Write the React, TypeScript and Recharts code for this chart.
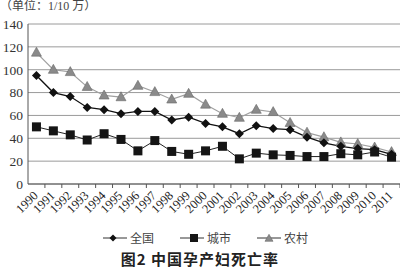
import React from "react";
import { LineChart, Line, XAxis, YAxis, CartesianGrid } from "recharts";

const years = [
  "1990", "1991", "1992", "1993", "1994", "1995", "1996", "1997", "1998", "1999", "2000",
  "2001", "2002", "2003", "2004", "2005", "2006", "2007", "2008", "2009", "2010", "2011",
];
const national = [95, 80, 76.5, 67, 65, 61.5, 63.5, 63.5, 56, 58.5, 53, 50, 44, 51, 48.5, 47.5, 41, 36, 33, 31, 30, 26];
const urban = [50, 46.5, 43, 38.5, 44, 39, 29, 38, 28.5, 26, 29, 33, 22, 27, 25.5, 25, 24, 24, 26.5, 25.5, 28, 23.5];
const rural = [115, 100, 98, 85, 77.5, 76, 86, 80.5, 74, 79, 69.5, 61.5, 58, 65, 63, 53.5, 45, 41, 36.5, 35, 32, 28];
const yTicks = [0, 20, 40, 60, 80, 100, 120, 140];

const data = years.map((y, i) => ({
  year: y,
  national: national[i],
  urban: urban[i],
  rural: rural[i],
}));

const serif = "'Liberation Serif', 'Noto Sans CJK SC', serif";
const cjk = "'Noto Sans CJK SC', sans-serif";
const HALF_BAND = 372 / 22 / 2;

function Diamond({ cx, cy, r = 4.5 }: any) {
  return (
    <polygon
      points={`${cx},${cy - r} ${cx + r},${cy} ${cx},${cy + r} ${cx - r},${cy}`}
      fill="#111"
    />
  );
}

function Square({ cx, cy, s = 9 }: any) {
  return <rect x={cx - s / 2} y={cy - s / 2} width={s} height={s} fill="#151515" />;
}

function Triangle({ cx, cy, w = 10, h = 9 }: any) {
  return (
    <polygon
      points={`${cx},${cy - h * 0.6} ${cx + w / 2},${cy + h * 0.4} ${cx - w / 2},${cy + h * 0.4}`}
      fill="#8a8a8a"
      stroke="#6a6a6a"
      strokeWidth={0.6}
    />
  );
}

function YearTick({ x, y, payload }: any) {
  return (
    <g>
      <line x1={x + HALF_BAND} y1={y} x2={x + HALF_BAND} y2={y + 4} stroke="#555" />
      <text
        transform={`translate(${x - 4},${y + 6}) rotate(-45)`}
        textAnchor="end"
        dominantBaseline="hanging"
        fontFamily={serif}
        fontSize={12.5}
        fill="#222"
      >
        {payload.value}
      </text>
    </g>
  );
}

function LegendItem({ label, marker }: { label: string; marker: React.ReactNode }) {
  return (
    <span style={{ display: "inline-flex", alignItems: "center" }}>
      <svg width={24} height={12} style={{ marginRight: 3 }}>
        <line x1={0} y1={6} x2={24} y2={6} stroke="#333" strokeWidth={1} />
        {marker}
      </svg>
      {label}
    </span>
  );
}

export default function App() {
  return (
    <div style={{ position: "absolute", left: 0, top: 0, width: 400, height: 272, background: "#fff", overflow: "hidden" }}>
      <div
        style={{
          position: "absolute",
          left: 0,
          top: 0,
          fontFamily: serif,
          fontSize: 12,
          lineHeight: "13px",
          color: "#444",
          whiteSpace: "nowrap",
        }}
      >
        （单位：1/10 万）
      </div>
      <LineChart width={400} height={272} data={data} margin={{ top: 24, right: 0, left: 0, bottom: 0 }}>
        <CartesianGrid vertical={false} stroke="#9a9a9a" />
        <XAxis
          dataKey="year"
          height={88}
          interval={0}
          padding={{ left: HALF_BAND, right: HALF_BAND }}
          tickLine={false}
          tickSize={0}
          tickMargin={0}
          axisLine={{ stroke: "#555" }}
          tick={<YearTick />}
        />
        <YAxis
          width={28}
          domain={[0, 140]}
          ticks={yTicks}
          interval={0}
          tickLine={false}
          tickSize={0}
          tickMargin={5}
          axisLine={{ stroke: "#555" }}
          tick={{ fontFamily: serif, fontSize: 13.5, fill: "#333" }}
        />
        <Line
          dataKey="rural"
          stroke="#a0a0a0"
          strokeWidth={1.2}
          isAnimationActive={false}
          dot={(p: any) => <Triangle key={`r${p.index}`} cx={p.cx} cy={p.cy} />}
        />
        <Line
          dataKey="national"
          stroke="#111"
          strokeWidth={1.3}
          isAnimationActive={false}
          dot={(p: any) => <Diamond key={`n${p.index}`} cx={p.cx} cy={p.cy} />}
        />
        <Line
          dataKey="urban"
          stroke="#222"
          strokeWidth={1}
          isAnimationActive={false}
          dot={(p: any) => <Square key={`u${p.index}`} cx={p.cx} cy={p.cy} />}
        />
      </LineChart>
      <div
        style={{
          position: "absolute",
          left: 103,
          top: 229,
          fontFamily: cjk,
          fontSize: 12,
          color: "#444",
          display: "flex",
          gap: 26,
          whiteSpace: "nowrap",
        }}
      >
        <LegendItem label="全国" marker={<Diamond cx={10} cy={6} r={3.5} />} />
        <LegendItem label="城市" marker={<Square cx={14} cy={6} s={8} />} />
        <LegendItem label="农村" marker={<Triangle cx={12} cy={6.5} w={8} h={7} />} />
      </div>
      <div
        style={{
          position: "absolute",
          left: 0,
          width: 400,
          top: 248,
          textAlign: "center",
          fontFamily: cjk,
          fontWeight: 700,
          fontSize: 15,
          letterSpacing: 1,
          color: "#222",
        }}
      >
        图2 中国孕产妇死亡率
      </div>
    </div>
  );
}
